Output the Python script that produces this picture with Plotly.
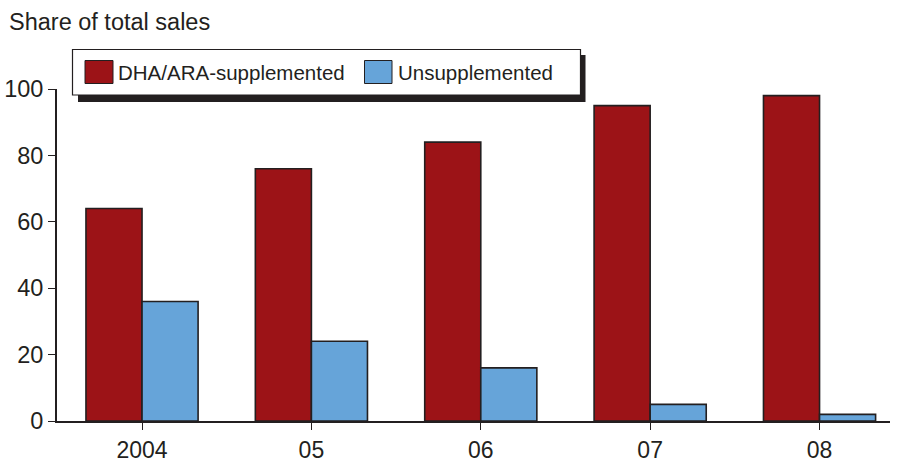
import plotly.graph_objects as go

categories = ["2004", "05", "06", "07", "08"]
supplemented = [64, 76, 84, 95, 98]
unsupplemented = [36, 24, 16, 5, 2]
series_names = ["DHA/ARA-supplemented", "Unsupplemented"]
y_ticks = [0, 20, 40, 60, 80, 100]
y_title = "Share of total sales"

RED = "#9c1317"
BLUE = "#66a4d9"
INK = "#231f20"
FONT = "Liberation Sans, Arial, sans-serif"

W, H = 900, 460
ML, MR, MT, MB = 57, 10, 89, 39
PW = W - ML - MR
PH = H - MT - MB


def px(x):
    return (x - ML) / PW


def py(y):
    return (H - MB - y) / PH


fig = go.Figure()
fig.add_trace(go.Bar(x=categories, y=supplemented, name=series_names[0],
                     marker=dict(color=RED, line=dict(color=INK, width=1.6))))
fig.add_trace(go.Bar(x=categories, y=unsupplemented, name=series_names[1],
                     marker=dict(color=BLUE, line=dict(color=INK, width=1.6))))

shapes = [
    # legend shadow
    dict(type="rect", xref="paper", yref="paper", x0=px(78), x1=px(585.5), y0=py(102), y1=py(55),
         fillcolor=INK, line=dict(width=0), layer="above"),
    # legend box
    dict(type="rect", xref="paper", yref="paper", x0=px(72.5), x1=px(580.5), y0=py(95), y1=py(49.5),
         fillcolor="white", line=dict(color=INK, width=1.2), layer="above"),
    # swatches
    dict(type="rect", xref="paper", yref="paper", x0=px(85), x1=px(113), y0=py(83.5), y1=py(60.5),
         fillcolor=RED, line=dict(color=INK, width=1), layer="above"),
    dict(type="rect", xref="paper", yref="paper", x0=px(364.5), x1=px(392), y0=py(83.5), y1=py(60.5),
         fillcolor=BLUE, line=dict(color=INK, width=1), layer="above"),
]

annotations = [
    dict(text=y_title, xref="paper", yref="paper", x=px(7), y=py(22), xanchor="left", yanchor="middle",
         showarrow=False, font=dict(size=23.5, color=INK, family=FONT)),
    dict(text=series_names[0], xref="paper", yref="paper", x=px(116), y=py(72.5), xanchor="left",
         yanchor="middle", showarrow=False, font=dict(size=20.5, color=INK, family=FONT)),
    dict(text=series_names[1], xref="paper", yref="paper", x=px(396), y=py(72.5), xanchor="left",
         yanchor="middle", showarrow=False, font=dict(size=20.5, color=INK, family=FONT)),
]

fig.update_layout(
    width=W, height=H,
    margin=dict(l=ML, r=MR, t=MT, b=MB, pad=0, autoexpand=False),
    paper_bgcolor="white", plot_bgcolor="white",
    barmode="group", bargap=0.338, bargroupgap=0,
    showlegend=False,
    font=dict(family=FONT, color=INK),
    shapes=shapes, annotations=annotations,
    xaxis=dict(type="category", range=[-0.502, 4.416], showline=True, linecolor=INK, linewidth=1.8,
               ticks="outside", ticklen=7, tickcolor=INK, tickwidth=1.2, showgrid=False, zeroline=False,
               tickfont=dict(size=23, color=INK, family=FONT), fixedrange=True, automargin=False),
    yaxis=dict(range=[0, 100], tickvals=y_ticks, showline=True, linecolor=INK, linewidth=1.8,
               ticks="outside", ticklen=7, tickcolor=INK, tickwidth=1.2, showgrid=False, zeroline=False,
               tickfont=dict(size=23.5, color=INK, family=FONT), fixedrange=True, automargin=False),
)

fig.write_html("out.html", config={"displayModeBar": False},
               post_script="document.body.style.margin='0px';document.body.style.overflow='hidden';")
